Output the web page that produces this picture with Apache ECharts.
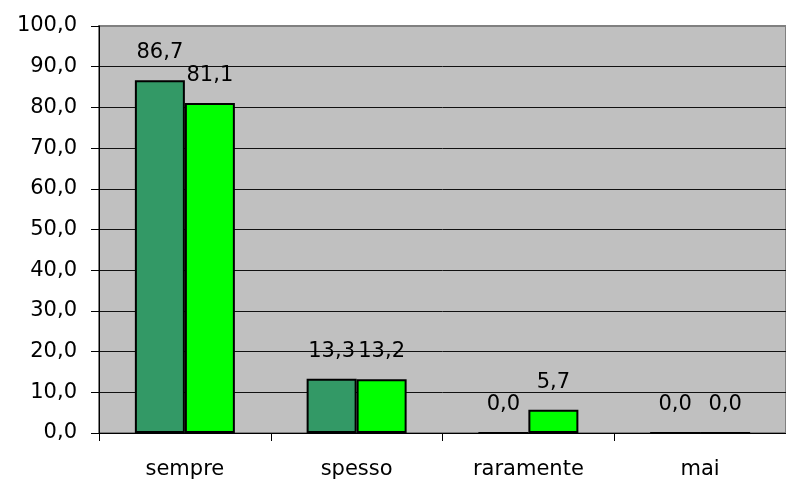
<!DOCTYPE html>
<html>
<head>
<meta charset="utf-8">
<script src="https://cdn.jsdelivr.net/npm/echarts@6/dist/echarts.min.js"></script>
<style>
html, body { margin: 0; padding: 0; background: #fff; }
#chart { width: 786px; height: 486px; }
</style>
</head>
<body>
<div id="chart"></div>
<script>
// dati
const categories = ['sempre', 'spesso', 'raramente', 'mai'];
const serie1 = [86.7, 13.3, 0.0, 0.0];
const serie2 = [81.1, 13.2, 5.7, 0.0];

const fmt = (v) => Number(v).toFixed(1).replace('.', ',');
const font = 'DejaVu Sans, sans-serif';

let chart = echarts.init(document.getElementById('chart'));

let labelStyle = {
    show: true,
    position: 'top',
    distance: 17,
    fontFamily: font,
    fontSize: 21,
    color: '#000',
    formatter: (p) => fmt(p.value)
};

let option = {
    animation: false,
    grid: {
        left: 99,
        right: -13,
        top: 26,
        bottom: 53,
        show: true,
        backgroundColor: '#C0C0C0',
        borderColor: '#808080',
        borderWidth: 2
    },
    xAxis: {
        type: 'category',
        data: categories,
        axisLine: { lineStyle: { color: '#000', width: 1 } },
        axisTick: { show: true, length: 8, lineStyle: { color: '#000' } },
        axisLabel: {
            margin: 26,
            fontFamily: font,
            fontSize: 21,
            color: '#000'
        }
    },
    yAxis: {
        type: 'value',
        min: 0,
        max: 100,
        interval: 10,
        axisLine: { show: true, lineStyle: { color: '#000', width: 1 } },
        axisTick: { show: true, length: 8, lineStyle: { color: '#000' } },
        splitLine: { showMaxLine: false, lineStyle: { color: '#111', width: 1 } },
        axisLabel: {
            margin: 22,
            fontFamily: font,
            fontSize: 21,
            color: '#000',
            formatter: fmt
        }
    },
    series: [
        {
            type: 'bar',
            data: serie1,
            barWidth: 50,
            barGap: '0%',
            itemStyle: { color: '#339966', borderColor: '#000', borderWidth: 2 },
            label: labelStyle
        },
        {
            type: 'bar',
            data: serie2,
            barWidth: 50,
            itemStyle: { color: '#00FF00', borderColor: '#000', borderWidth: 2 },
            label: labelStyle
        }
    ]
};
chart.setOption(option);
</script>
</body>
</html>
